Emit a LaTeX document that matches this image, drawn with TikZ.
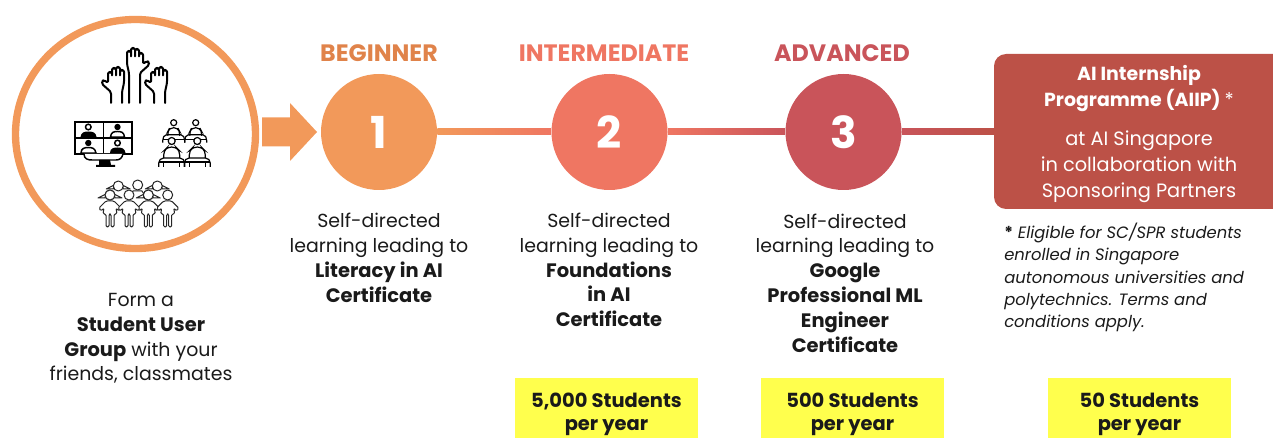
\documentclass[tikz,border=0pt]{standalone}
\usepackage{fontspec}
\setmainfont{Poppins}
\definecolor{orangeC}{HTML}{F2995A}
\definecolor{labelO}{HTML}{E0834A}
\definecolor{coralC}{HTML}{EF7662}
\definecolor{redC}{HTML}{C9545A}
\definecolor{boxC}{HTML}{BC5147}
\definecolor{yellowC}{HTML}{FFFF4D}
\definecolor{inkC}{HTML}{1A1A1A}
\newcommand{\bb}[1]{{\bfseries\fontsize{14.6}{18.6}\selectfont #1}}
\tikzset{
 x=0.75pt,y=-0.75pt,
 numcircle/.style={circle,minimum size=87pt,inner sep=0pt,text=white,font=\bfseries\fontsize{33}{33}\selectfont},
 levellabel/.style={font=\bfseries\fontsize{17.8}{20}\selectfont},
 bodytext/.style={align=center,inner sep=0pt,text=inkC,font=\fontsize{14.2}{18.6}\selectfont},
 boxhead/.style={align=center,inner sep=0pt,text=white,font=\bfseries\fontsize{14.2}{19.5}\selectfont},
 boxtext/.style={align=center,inner sep=0pt,text=white,font=\fontsize{14.5}{19.5}\selectfont},
 notetext/.style={align=left,inner sep=0pt,text=inkC,anchor=north west,font=\itshape\fontsize{12.3}{16.7}\selectfont},
 yellowbox/.style={fill=yellowC,minimum width=137.25pt,minimum height=45pt,inner sep=0pt},
 yellowtext/.style={inner sep=0pt,align=center,text=inkC,font=\bfseries\fontsize{14.6}{17.25}\selectfont},
 icon/.style={draw=black,line width=1.5pt,line join=round,line cap=round},
 hollow/.style={draw=black,line width=1.1pt,fill=white},
 solidp/.style={draw=black,line width=.8pt,fill=black},
 thin icon/.style={draw=black!85,line width=.75pt,line join=round,fill=white},
 hand/.pic={
  \draw[icon,rounded corners=1.2pt] (0,0) -- (0,-11) -- (-9,-19) -- (-9,-22) -- (-7,-23) -- (-3,-20)
   -- (-3,-31) -- (1,-31) -- (1,-26) -- (1,-35) -- (5,-35) -- (5,-26) -- (5,-36) -- (9,-36) -- (9,-26) -- (9,-33) -- (13,-33)
   -- (13,-20) -- (11,-11) -- (11,0);
 },
 tallhand/.pic={
  \draw[icon,rounded corners=1.2pt] (0,0) -- (0,-30) -- (-9,-38) -- (-9,-41) -- (-7,-42) -- (-3,-39)
   -- (-3,-50) -- (1,-50) -- (1,-45) -- (1,-54) -- (5,-54) -- (5,-45) -- (5,-55) -- (9,-55) -- (9,-45) -- (9,-52) -- (13,-52)
   -- (13,-39) -- (11,-30) -- (11,0);
 },
 seat/.pic={
  \draw[hollow,line width=.9pt] (0,0) circle[radius=3];
  \draw[hollow,line width=.9pt,rounded corners=3pt] (-6,12) -- (-6,9) -- (-4,5) -- (4,5) -- (6,9) -- (6,12);
  \draw[draw=black,line width=.9pt,rounded corners=1.5pt] (-11,20) -- (-11,16) -- (-9,12) -- (9,12) -- (11,16) -- (11,20);
  \draw[draw=black,line width=.9pt] (-11,17) -- (11,17);
 },
 frontseat/.pic={
  \draw[hollow,line width=.9pt] (0,0) circle[radius=3.5];
  \draw[hollow,line width=.9pt,rounded corners=3pt] (-8,17) -- (-8,10) -- (-4,6) -- (4,6) -- (8,10) -- (8,17);
  \draw[draw=black,line width=.9pt,rounded corners=1.5pt] (-13,26) -- (-13,20) -- (-10,17) -- (10,17) -- (13,20) -- (13,26);
  \draw[draw=black,line width=.9pt] (-13,21) -- (13,21) (-8,21) -- (-8,26) (8,21) -- (8,26);
 },
 kid/.pic={
  \draw[thin icon,rounded corners=1pt] (-4,6) -- (-11,13) -- (-9,16) -- (-6,13) -- (-7,19) -- (-4,19) -- (-4,32) -- (-1,32) -- (-1,19) -- (1,19) -- (1,32) -- (4,32) -- (4,19) -- (7,19) -- (6,13) -- (9,16) -- (11,13) -- (4,6) -- cycle;
  \draw[thin icon] (0,0) circle[radius=5];
 },
 pigtails/.pic={
  \draw[thin icon] (-4,-1) -- (-12,3) -- (-5,3) -- cycle;
  \draw[thin icon] (4,-1) -- (12,3) -- (5,3) -- cycle;
  \draw[thin icon] (0,0) circle[radius=5];
 },
}
\begin{document}
\begin{tikzpicture}
\useasboundingbox (0,0) rectangle (1273,438);
% big circle
\draw[orangeC,line width=5.5pt] (135.5,134) ellipse[x radius=120,y radius=114.5];
% arrow
\fill[orangeC] (262,117.5) -- (290,117.5) -- (290,103) -- (317,132) -- (290,161) -- (290,146.5) -- (262,146.5) -- cycle;
% hands
\pic at (111,103) {hand};
\pic at (154,103) {hand};
\pic[xscale=-1] at (140,103) {tallhand};
% monitor
\draw[draw=black,line width=1.4pt,fill=white] (75,122) rectangle (132,154);
\draw[draw=black,line width=1.4pt] (103.5,122) -- (103.5,154) (75,138) -- (132,138);
\draw[hollow] (88.3,127) circle[radius=2.8];
\fill[black] (80.5,137) .. controls (81,132) and (85,131.5) .. (88.3,131.5) .. controls (92,131.5) and (96,132) .. (96.5,137) -- cycle;
\draw[solidp] (117.5,127) circle[radius=2.6];
\draw[hollow] (110.5,137) .. controls (111,132) and (114,131.5) .. (117.5,131.5) .. controls (121,131.5) and (124,132) .. (124.5,137) -- cycle;
\draw[solidp] (88.3,143) circle[radius=2.6];
\draw[hollow] (81,153) .. controls (81,148) and (85,147.5) .. (88.3,147.5) .. controls (92,147.5) and (95,148) .. (96,153) -- cycle;
\draw[hollow] (117.5,143) circle[radius=2.8];
\fill[black] (110,153) .. controls (110,148) and (114,147.5) .. (117.5,147.5) .. controls (121,147.5) and (125,148) .. (125.5,153) -- cycle;
\draw[draw=black,line width=1.1pt,fill=white] (84,154) .. controls (84,159) and (88,160) .. (92,160) -- (116,160) .. controls (120,160) and (122,158) .. (123,154);
\fill[black] (99,160) -- (110,160) -- (111,165) -- (115,165) -- (115,167) -- (96,167) -- (96,165) -- (99,165) -- cycle;
% classroom
\pic at (173.7,122.7) {seat};
\pic at (195.7,122.7) {seat};
\pic at (171.7,141) {frontseat};
\pic at (197.3,141) {frontseat};
% students
\pic at (118.3,186) {pigtails};
\pic at (157.3,186) {pigtails};
\draw[thin icon] (137.7,185) circle[radius=5];
\draw[thin icon] (128,199) -- (133,191) -- (142,191) -- (147,199);
\pic at (110,195) {kid};
\pic at (148.3,195) {kid};
\pic at (129,195) {kid};
\pic at (167.7,195) {kid};
\pic at (110,195) {pigtails};
\pic at (148.3,195) {pigtails};
% connectors
\node[numcircle,fill=orangeC] (c1) at (379,132) {1};
\node[numcircle,fill=coralC] (c2) at (609.5,132) {2};
\node[numcircle,fill=redC] (c3) at (843.5,132) {3};
\coordinate (boxwest) at (995,132);
\shade[left color=orangeC,right color=coralC] ([yshift=2.25pt]c1.east) rectangle ([yshift=-2.25pt]c2.west);
\shade[left color=coralC,right color=redC] ([yshift=2.25pt]c2.east) rectangle ([yshift=-2.25pt]c3.west);
\shade[left color=redC,right color=boxC] ([yshift=2.25pt]c3.east) rectangle ([yshift=-2.25pt]boxwest);
% levels
\node[levellabel,text=labelO] (l1) at (379,53) {BEGINNER};
\node[levellabel,text=coralC] (l2) at (604,53) {INTERMEDIATE};
\node[levellabel,text=redC] (l3) at (842,53) {ADVANCED};
% box
\fill[boxC] (1273,54) [rounded corners=9pt] -- (994,54) -- (994,209) [sharp corners] -- (1273,209) -- cycle;
\node[boxhead] (bh) at (1139,89) {AI Internship\\Programme (AIIP) \textmd{*}};
\node[boxtext] (bt) at (1139,167) {at AI Singapore\\in collaboration with\\Sponsoring Partners};
\node[notetext] (note) at (1004,223) {\textbf{\upshape *} Eligible for SC/SPR students\\enrolled in Singapore\\autonomous universities and\\polytechnics. Terms and\\conditions apply.};
% descriptions
\node[bodytext] (d0) at (141,338.5) {Form a\\\bb{Student User}\\\bb{Group} with your\\friends, classmates};
\node[bodytext] (d1) at (379,258) {Self-directed\\learning leading to\\\bb{Literacy in AI}\\\bb{Certificate}};
\node[bodytext] (d2) at (609,270) {Self-directed\\learning leading to\\\bb{Foundations}\\\bb{in AI}\\\bb{Certificate}};
\node[bodytext] (d3) at (845,283) {Self-directed\\learning leading to\\\bb{Google}\\\bb{Professional ML}\\\bb{Engineer}\\\bb{Certificate}};
% yellow boxes
\node[yellowbox] (y1) at (606.5,408) {};
\node[yellowbox] (y2) at (852.5,408) {};
\node[yellowbox] (y3) at (1139.5,408) {};
\node[yellowtext] (t1) at ([yshift=-4.6pt]y1.center) {5,000 Students\\per year};
\node[yellowtext] (t2) at ([yshift=-4.6pt]y2.center) {500 Students\\per year};
\node[yellowtext] (t3) at ([yshift=-4.6pt]y3.center) {50 Students\\per year};
\end{tikzpicture}
\end{document}
